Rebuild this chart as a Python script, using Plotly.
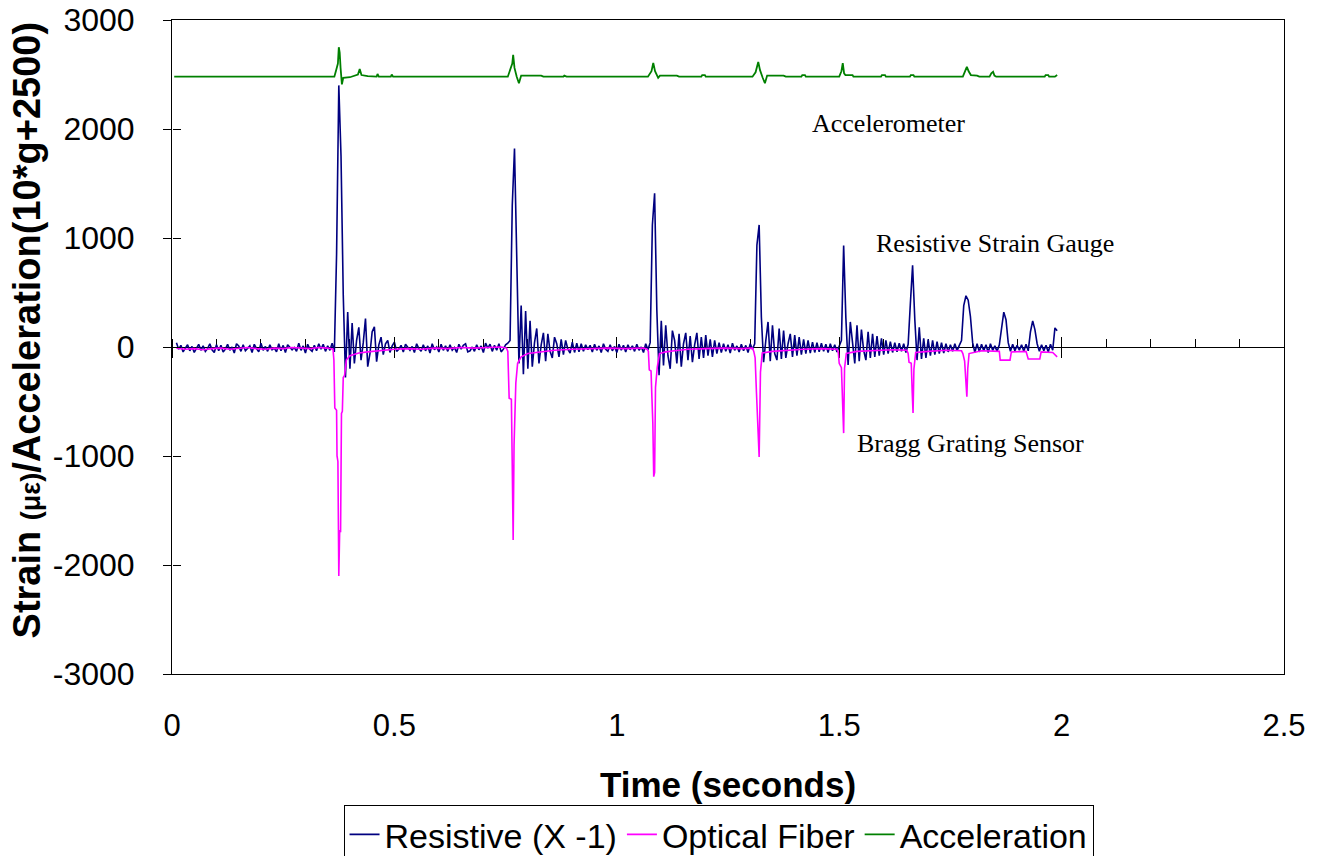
import numpy as np
import plotly.graph_objects as go

# Resistive gauge (x -1), microstrain, one sample every 5 ms from 0.01 s to 1.99 s
res_t = np.round(np.linspace(0.01, 1.99, 397), 3)
res_v = [
    40, -20, 15, -45, -10, 20, -35, 5, -50, -5, 25, -30, 10, -40, -15, 30, -25, -50, 20, -35,
    15, -45, -20, 25, -30, 0, -55, 30, 10, -40, 20, -35, -10, 10, -50, 25, -15, -45, 35, -30,
    5, -40, 20, -25, -10, -45, 30, -35, 15, -50, 20, 0, -25, -5, -40, 35, -30, 10, -55, 25,
    -20, -40, 15, -35, 30, -20, 25, -40, 10, -30, 35, -45, 850, 2400, 1750, 480, -280, 320, -200, 220,
    -150, 60, 180, -120, 40, 260, -180, -60, 140, 185, -135, 20, 90, -70, 30, 60, -50, 10, 45, -40,
    -20, 15, -45, 25, 0, -30, 5, -50, 30, -15, -40, 20, -35, 10, -55, 30, -25, 0, -45, 25,
    -30, 10, -40, 20, -30, -5, -50, 25, -20, 15, 30, -45, -35, 0, -40, 20, -25, 10, -50, 35,
    -10, 25, -40, 15, -30, 30, -45, -20, 20, 35, 60, 1300, 1820, 780, -150, 380, -250, 330, -200, 240,
    -180, 40, 170, -150, 20, 130, -130, 120, -40, -100, 90, 30, -90, 70, -70, 60, -20, -55, 45, -50,
    35, -45, 30, -40, 20, -25, 15, -45, 25, -30, 10, -50, 30, -20, -40, 20, -35, 5, -50, 25,
    -30, 15, -45, 20, -25, 10, -40, 25, -30, 0, -50, 30, -25, 40, 1120, 1410, 340, -260, 240, -170,
    200, -80, -200, 150, 60, -150, 120, -180, 30, 130, -120, 100, -140, 20, 130, -110, 90, -100, 110, -80,
    70, -90, 60, -60, 40, -50, 30, -40, 20, -55, 35, -30, 10, -45, 25, -35, 15, -50, 30, -20,
    30, 935, 1120, 275, -140, 60, 230, -130, 200, -60, -120, 170, -110, 150, -100, 30, 120, -90, 110, -80,
    90, -70, 70, -60, 60, -55, 45, -50, 40, -45, 35, -40, 25, -50, 30, -35, 20, -45, 15, 60,
    930, 265, -165, 230, 40, -150, 200, -130, 160, -30, -120, 140, -100, 120, -90, 100, -80, 80, -70, 60,
    -60, 50, -50, 40, -45, 35, -40, 30, -50, 25, 400, 750, 250, -120, 180, -110, 80, -100, 70, -80,
    60, -70, 50, -60, 40, -55, 30, -45, 20, -40, 30, -35, 15, 60, 380, 470, 430, 280, 40, -50,
    30, -45, 25, -35, 20, -50, 30, -30, 10, -40, 20, 200, 320, 250, 40, -40, 25, -35, 15, -30,
    20, -40, 25, -35, 140, 240, 160, 30, -40, 20, -35, 15, -45, 25, -30, 175, 150,
]

# Optical fibre (Bragg grating), microstrain
opt_t = [
    0.01, 0.03, 0.05, 0.07, 0.09, 0.11, 0.13, 0.15, 0.17, 0.19, 0.21, 0.23, 0.25, 0.27, 0.29,
    0.31, 0.33, 0.35, 0.362,
    0.364, 0.366, 0.370, 0.371, 0.373, 0.375, 0.377, 0.379, 0.381, 0.383, 0.385, 0.388, 0.392,
    0.40, 0.42, 0.44, 0.46, 0.48, 0.50, 0.53, 0.56, 0.59, 0.62, 0.65, 0.68, 0.71, 0.74, 0.752,
    0.755, 0.758, 0.763, 0.765, 0.767, 0.769, 0.771, 0.773, 0.777, 0.785, 0.80, 0.83, 0.86,
    0.90, 0.94, 0.98, 1.02, 1.06, 1.068,
    1.071, 1.073, 1.077, 1.079, 1.081, 1.083, 1.085, 1.087, 1.091, 1.096, 1.11, 1.13, 1.16,
    1.20, 1.24, 1.28, 1.305,
    1.308, 1.311, 1.314, 1.317, 1.320, 1.323, 1.327, 1.35, 1.38, 1.42, 1.46, 1.495,
    1.498, 1.500, 1.505, 1.508, 1.510, 1.512, 1.516, 1.54, 1.58, 1.62, 1.652,
    1.655, 1.657, 1.662, 1.664, 1.666, 1.668, 1.672, 1.70, 1.74, 1.775,
    1.778, 1.782, 1.785, 1.787, 1.789, 1.792, 1.82, 1.86,
    1.862, 1.884, 1.887, 1.92,
    1.925, 1.951, 1.954, 1.98, 1.99,
]
opt_v = [
    -10, -20, -15, -25, -15, -10, -20, -15, -5, -15, -20, -10, -15, -5, -10,
    -15, -5, -10, -20,
    -120, -560, -580, -1000, -1050, -2100, -1680, -1700, -610, -590, -280, -260, -120,
    -80, -55, -45, -35, -30, -20, -15, -20, -10, -15, -5, -10, -5, 0, -10,
    -40, -470, -480, -1100, -1770, -900, -500, -330, -150, -90, -60, -45, -30,
    -20, -15, -10, -15, -10, -20,
    -40, -210, -220, -470, -700, -1190, -1150, -370, -185, -60, -45, -35, -20,
    -15, -10, -15, -10,
    -40, -100, -420, -810, -1010, -230, -55, -40, -30, -20, -15, -20,
    -50, -150, -190, -500, -790, -195, -60, -40, -30, -25, -30,
    -60, -140, -150, -400, -605, -200, -50, -40, -30, -35,
    -60, -130, -300, -455, -200, -60, -35, -40,
    -120, -120, -45, -40,
    -110, -110, -45, -50, -90,
]

# Accelerometer, 10*g + 2500
acc_t = [
    0.005, 0.365, 0.369, 0.373, 0.375, 0.377, 0.379, 0.382, 0.385, 0.40, 0.418, 0.422, 0.426,
    0.44, 0.46, 0.462, 0.465, 0.492, 0.494, 0.497,
    0.755, 0.760, 0.765, 0.767, 0.770, 0.775, 0.780, 0.785, 0.83, 0.835, 0.88, 0.882, 0.887,
    1.070, 1.078, 1.082, 1.086, 1.093, 1.097, 1.135, 1.14, 1.19, 1.192, 1.198, 1.20,
    1.305, 1.312, 1.318, 1.322, 1.328, 1.333, 1.338, 1.375, 1.38, 1.415, 1.417, 1.423, 1.425,
    1.500, 1.505, 1.508, 1.511, 1.514, 1.53, 1.532, 1.594, 1.596, 1.603, 1.605,
    1.659, 1.661, 1.667, 1.669,
    1.778, 1.783, 1.787, 1.791, 1.796, 1.81, 1.815, 1.838, 1.842, 1.846, 1.849, 1.853,
    1.962, 1.964, 1.97, 1.972, 1.985, 1.99,
]
acc_v = [
    2480, 2480, 2540, 2600, 2750, 2700, 2560, 2410, 2470, 2475, 2500, 2550, 2495,
    2485, 2480, 2505, 2480, 2480, 2500, 2480,
    2480, 2540, 2600, 2680, 2560, 2480, 2420, 2490, 2490, 2480, 2480, 2490, 2480,
    2480, 2530, 2605, 2530, 2470, 2490, 2490, 2480, 2480, 2495, 2495, 2480,
    2480, 2520, 2615, 2540, 2470, 2420, 2490, 2490, 2480, 2480, 2495, 2495, 2480,
    2480, 2530, 2605, 2510, 2495, 2495, 2480, 2480, 2495, 2495, 2480,
    2480, 2495, 2495, 2480,
    2480, 2530, 2570, 2530, 2495, 2490, 2480, 2480, 2510, 2525, 2490, 2480,
    2480, 2495, 2495, 2480, 2480, 2495,
]

x_ticks = [0, 0.5, 1, 1.5, 2, 2.5]
y_ticks = [-3000, -2000, -1000, 0, 1000, 2000, 3000]

fig = go.Figure()
# main x axis (x) sits on y = 0; x2 carries the labels at the bottom, x3 the upper half of major ticks
fig.add_trace(go.Scatter(x=res_t, y=res_v, mode="lines", name="Resistive (X -1)",
                         line=dict(color="#000080", width=1.6)))
fig.add_trace(go.Scatter(x=opt_t, y=opt_v, mode="lines", name="Optical Fiber",
                         xaxis="x3", line=dict(color="#FF00FF", width=1.6)))
fig.add_trace(go.Scatter(x=acc_t, y=acc_v, mode="lines", name="Acceleration",
                         xaxis="x2", yaxis="y2", line=dict(color="#008000", width=1.8)))

# labels inside the plot
fig.add_annotation(x=1.434, y=2046, text="Accelerometer", showarrow=False,
                   xanchor="left", yanchor="middle")
fig.add_annotation(x=1.578, y=954, text="Resistive Strain Gauge", showarrow=False,
                   xanchor="left", yanchor="middle")
fig.add_annotation(x=1.5355, y=-881, text="Bragg Grating Sensor", showarrow=False,
                   xanchor="left", yanchor="middle")
fig.update_annotations(font=dict(family="Liberation Serif, Times New Roman", size=26, color="black"))

# y axis title
fig.add_annotation(xref="paper", yref="paper", x=-0.130, y=0.526, textangle=-90,
                   showarrow=False, xanchor="center", yanchor="middle",
                   text="<b>Strain <span style='font-size:27px'>(με)</span>/Acceleration(10*g+2500)</b>",
                   font=dict(family="Liberation Sans, Arial", size=38, color="black"))

common = dict(showgrid=False, zeroline=False, automargin=False)

fig.update_layout(
    width=1320, height=856,
    margin=dict(l=172, r=36, t=20, b=182, autoexpand=False),
    plot_bgcolor="white", paper_bgcolor="white",
    font=dict(family="Liberation Sans, Arial", size=31, color="black"),
    showlegend=True,
    legend=dict(orientation="h", x=0.4915, xanchor="center", y=-0.2, yanchor="top",
                bordercolor="black", borderwidth=1, bgcolor="white", itemwidth=30,
                font=dict(size=34), tracegroupgap=0),
    xaxis=dict(range=[0, 2.5], anchor="free", position=0.5, tick0=0, dtick=0.5,
               showticklabels=False, showline=True, linecolor="black", linewidth=1,
               ticks="outside", ticklen=10, tickcolor="black", layer="below traces",
               minor=dict(tick0=0, dtick=0.1, ticks="inside", ticklen=8, tickcolor="black"),
               **common),
    xaxis2=dict(range=[0, 2.5], overlaying="x", anchor="y", side="bottom",
                tickvals=x_ticks, ticktext=[f"{v:g}" for v in x_ticks],
                showline=True, mirror=True, linecolor="black", linewidth=1,
                ticks="outside", ticklen=24, tickcolor="rgba(0,0,0,0)",
                title=dict(text="<b>Time (seconds)</b>", font=dict(size=35), standoff=30),
                **common),
    xaxis3=dict(range=[0, 2.5], overlaying="x", anchor="free", position=0.5,
                tick0=0, dtick=0.5, showticklabels=False, showline=False,
                ticks="inside", ticklen=10, tickcolor="black", **common),
    yaxis=dict(range=[-3000, 3000], tickvals=y_ticks, ticktext=[str(v) for v in y_ticks],
               tickfont=dict(size=32),
               showline=True, mirror=True, linecolor="black", linewidth=1,
               ticks="outside", ticklen=8, tickcolor="black", ticklabelstandoff=22,
               **common),
    yaxis2=dict(range=[-3000, 3000], overlaying="y", anchor="free", position=0, side="left",
                tickvals=y_ticks, showticklabels=False, showline=False,
                ticks="inside", ticklen=8, tickcolor="black", **common),
)

# drop the default page margin so the figure sits at the window's top-left corner
fig.write_html("out.html", config={"displayModeBar": False},
               post_script="document.body.style.margin='0';")
